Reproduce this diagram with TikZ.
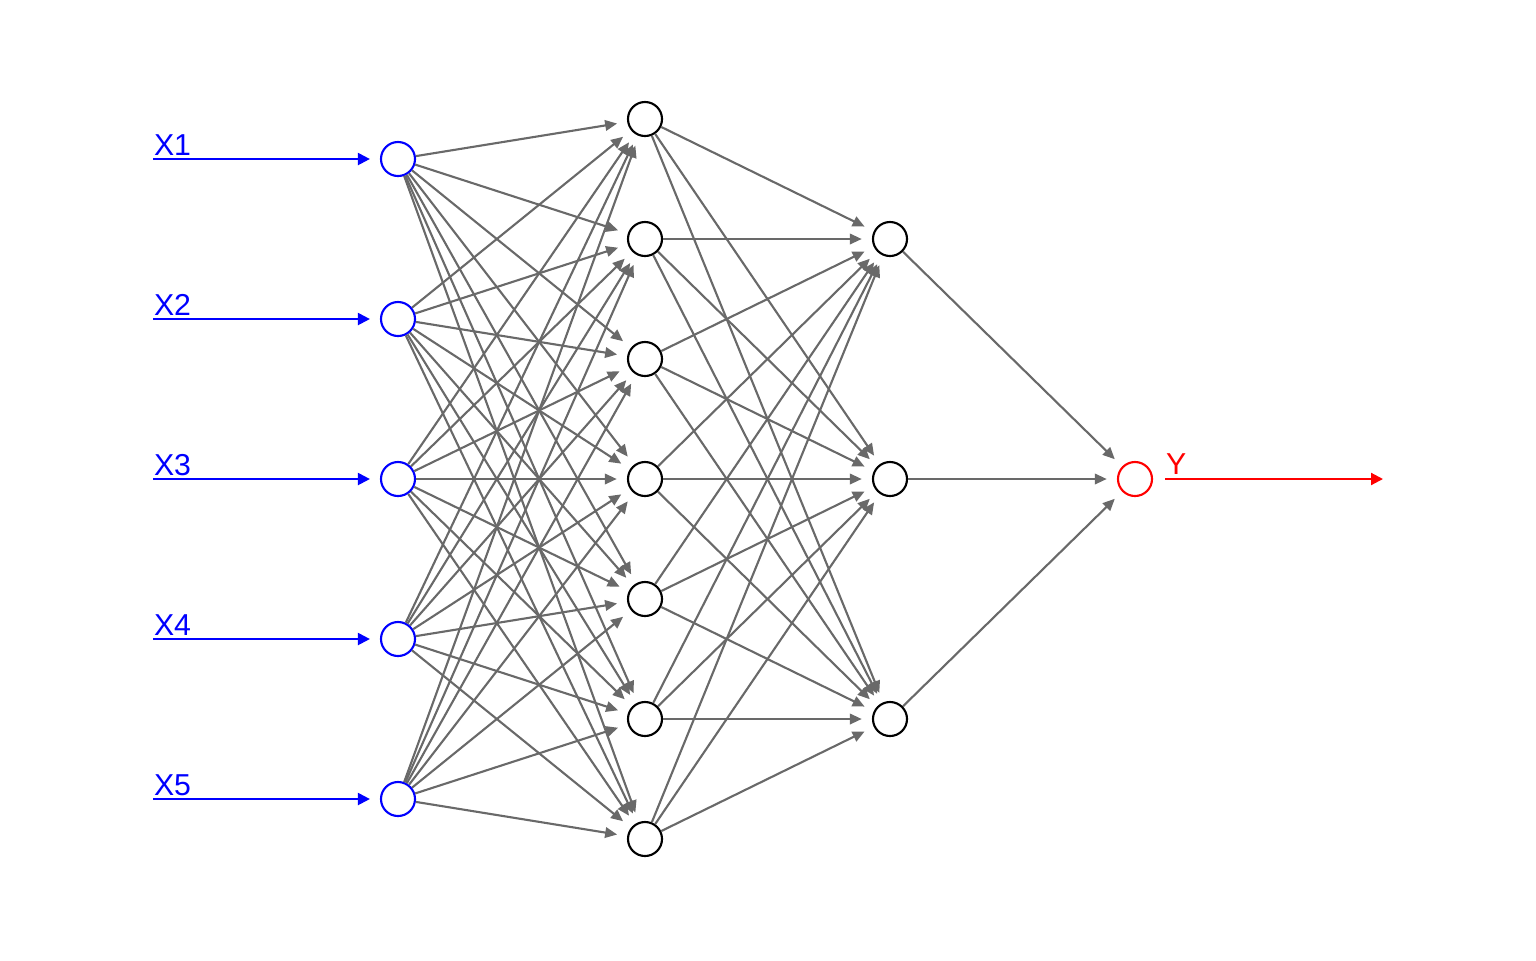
\documentclass[tikz,border=0pt]{standalone}
\usepackage{fontspec}
\setmainfont{Liberation Sans}
\usetikzlibrary{arrows.meta}
\definecolor{edgegray}{RGB}{105,105,105}

\begin{document}
\begin{tikzpicture}[x=0.01cm,y=-0.01cm,line width=0.6pt,
	neuron/.style={circle,draw=black,inner sep=0pt,minimum size=3.4mm},
	edge/.style={draw=edgegray,-{Triangle[length=3.4pt,width=3pt]},shorten >=2.9pt},
	lab/.style={anchor=base west,inner sep=0pt,font=\fontsize{8.6}{10}\selectfont}]
	\useasboundingbox (0,0) rectangle (1536,960);
	% layers
	\foreach \n in {1,...,5}
		\node (i\n) at (398,{160*\n-1}) [neuron,draw=blue] {};
	\foreach \n in {1,...,7}
		\node (h\n) at (645,{120*\n-1}) [neuron] {};
	\foreach \n in {1,...,3}
		\node (g\n) at (890,{240*\n-1}) [neuron] {};
	\node (y) at (1135,479) [neuron,draw=red] {};
	% connections
	\foreach \a in {1,...,5}
		\foreach \b in {1,...,7}
			\draw [edge] (i\a) -- (h\b);
	\foreach \a in {1,...,7}
		\foreach \b in {1,...,3}
			\draw [edge] (h\a) -- (g\b);
	\foreach \a in {1,...,3}
		\draw [edge] (g\a) -- (y);
	% inputs and output
	\foreach \n in {1,...,5} {
		\coordinate (s\n) at (153,{160*\n-1});
		\node (l\n) at (153,{160*\n-5}) [lab,text=blue] {X\n};
		\draw [blue,-{Triangle[length=3.4pt,width=3.4pt]},shorten >=2.85pt] (s\n) -- (i\n);
	}
	\coordinate (yend) at (1383,479);
	\node (ylab) at (1165,474) [lab,text=red] {Y};
	\draw [red,-{Triangle[length=3.4pt,width=3.4pt]},shorten <=3.4pt] (y) -- (yend);
\end{tikzpicture}
\end{document}
